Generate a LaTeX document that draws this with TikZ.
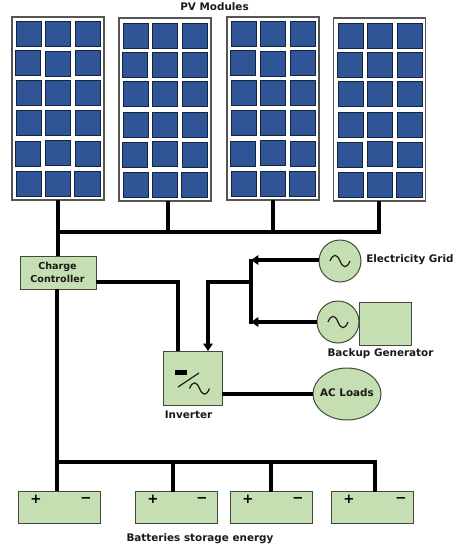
\documentclass[tikz,border=0pt]{standalone}
\usepackage{fontspec}
\setmainfont{DejaVu Sans}
\usetikzlibrary{arrows.meta,calc,shapes.geometric}
\definecolor{gfill}{HTML}{C6DFB2}
\definecolor{gedge}{HTML}{3F4A3A}
\definecolor{cellblue}{HTML}{2F5597}
\definecolor{celledge}{HTML}{14233F}
\definecolor{panedge}{HTML}{555555}
\definecolor{ink}{HTML}{1A1A1A}
\def\px{0.75pt}
\tikzset{
  x=0.75pt,y=-0.75pt,
  panel/.style={draw=panedge,fill=white,line width=0.9pt,inner sep=0,outer sep=0,minimum width=92*\px,minimum height=183*\px},
  cell/.style={draw=celledge,fill=cellblue,line width=0.75pt},
  gbox/.style={draw=gedge,fill=gfill,line width=0.75pt,inner sep=0,outer sep=0},
  gcirc/.style={gbox,circle,minimum size=42*\px},
  wire/.style={draw=black,line width=2.7pt},
  wirethin/.style={draw=black,line width=2.35pt},
  arrowwire/.style={wirethin,-{Triangle[length=5.5pt,width=7pt]}},
  lab/.style={text=ink,font=\bfseries\fontsize{7.8}{10.5}\selectfont,inner sep=0,align=center},
  smalllab/.style={text=ink,font=\bfseries\fontsize{7.2}{10}\selectfont,inner sep=0,align=center},
  sign/.style={text=black,font=\bfseries\fontsize{10}{10}\selectfont,inner sep=0},
  sinestroke/.style={draw=ink,line width=0.9pt},
  batt/.style={gbox,minimum width=82*\px,minimum height=32*\px},
  sinewave/.pic={\path[sinestroke] (-10,0) .. controls (-7,-7.5) and (-3,-7.5) .. (0,0) .. controls (3,7.5) and (7,7.5) .. (10,0);}
}
% cell pattern: #1,#2 = panel left, top
\newcommand{\cellsA}[2]{%
  \foreach \cx/\cy in {4/4.5,33/4.5,63/4.5, 3/33.5,33/34,63/33.5, 4/63,33/63,63/63, 4/93.5,33/93.5,63/93.5, 3/124,33/123,63/124, 4/154,33/154,62.5/154}
    \path[cell] (#1+\cx,#2+\cy) rectangle +(25.5,25);}
\begin{document}
\begin{tikzpicture}
\useasboundingbox (0,0) rectangle (464,554);
% PV panels
\node[panel] (p1) at (58,108.5) {};
\node[panel] (p2) at (165,109.5) {};
\node[panel] (p3) at (273,108.5) {};
\node[panel] (p4) at (379.5,109.5) {};
\cellsA{12}{17}
\cellsA{119}{18.5}
\cellsA{227}{17}
\cellsA{334}{18.5}
\node[lab] (pvlab) at (214.5,7) {PV Modules};
% Main blocks
\node[gbox,minimum width=76*\px,minimum height=33*\px] (cc) at (58,272.5) {};
\node[smalllab,text width=70*\px] (cclab) at (57.5,272.5) {Charge\\Controller};
\node[gbox,minimum width=59*\px,minimum height=54*\px] (inv) at (192.5,378) {};
\node[lab] (invlab) at (188.5,415) {Inverter};
\node[gcirc] (grid) at (340,261) {};
\node[lab,anchor=west] (gridlab) at (366,260) {Electricity Grid};
\node[gcirc] (gen) at (338,322) {};
\node[gbox,minimum width=52*\px,minimum height=43*\px] (genbox) at (385,323.5) {};
\node[lab] (genlab) at (380.5,354) {Backup Generator};
\node[gbox,ellipse,minimum width=68*\px,minimum height=52*\px] (ac) at (347,394) {};
\node[lab] (aclab) at (347,393) {AC Loads};
% Batteries
\node[batt] (b1) at (59,507) {};
\node[batt] (b2) at (176,507.5) {};
\node[batt] (b3) at (271.5,507.5) {};
\node[batt] (b4) at (372.5,507.5) {};
\node[lab] (battlab) at (200,538.5) {Batteries storage energy};
\foreach \b/\sx in {b1/36,b2/153,b3/248,b4/349}{
  \node[sign] (\b plus) at (\sx,499.5) {+};
}
\foreach \b/\mx in {b1/86,b2/202,b3/298,b4/401}{
  \node[sign] (\b minus) at (\mx,500) {−};
}
% symbols
\pic at (340,261) {sinewave};
\pic at (338,322) {sinewave};
\pic at (199.5,388.5) {sinewave};
\path[fill=black] (175,369.5) rectangle (187,374.5);
\path[draw=ink,line width=0.9pt] (178,387) -- (199,373);
% PV wiring
\coordinate (bus1) at (58,232);
\coordinate (bus2) at (168,232);
\coordinate (bus3) at (273,232);
\coordinate (bus4) at (379,232);
\draw[wire] (p1.south) -- (bus1);
\draw[wire] (p2.south -| bus2) -- (bus2);
\draw[wire] (p3.south) -- (bus3);
\draw[wire] (p4.south -| bus4) -- (bus4);
\draw[wirethin,line cap=rect] (bus1) -- (bus4);
\draw[wire] (bus1) -- (cc.north);
% Charge controller to inverter
\coordinate (ccout) at (96,282);
\coordinate (invdc) at (178,351);
\draw[wirethin] (ccout) -| (invdc);
% Grid and generator
\coordinate (jt) at (251,260);
\coordinate (jm) at (251,282);
\coordinate (jb) at (251,322);
\coordinate (invac) at (208,351);
\draw[line width=3pt] ($(jt)+(0,-1.5)$) -- ($(jb)+(0,1.5)$);
\draw[arrowwire] (grid.west |- jt) -- (jt);
\draw[arrowwire] (gen.west) -- (jb);
\draw[arrowwire] (jm) -| (invac);
% Inverter to load
\draw[wirethin] (inv.east |- ac.west) -- (ac.west);
% Batteries bus
\coordinate (dc1) at (57,462);
\coordinate (dc2) at (173,462);
\coordinate (dc3) at (271,462);
\coordinate (dc4) at (375,462);
\draw[wire] (cc.south -| dc1) -- (dc1 |- b1.north);
\draw[wirethin,line cap=rect] (dc1) -- (dc4);
\draw[wire] (dc2) -- (dc2 |- b2.north);
\draw[wire] (dc3) -- (dc3 |- b3.north);
\draw[wire] (dc4) -- (dc4 |- b4.north);
\end{tikzpicture}
\end{document}
